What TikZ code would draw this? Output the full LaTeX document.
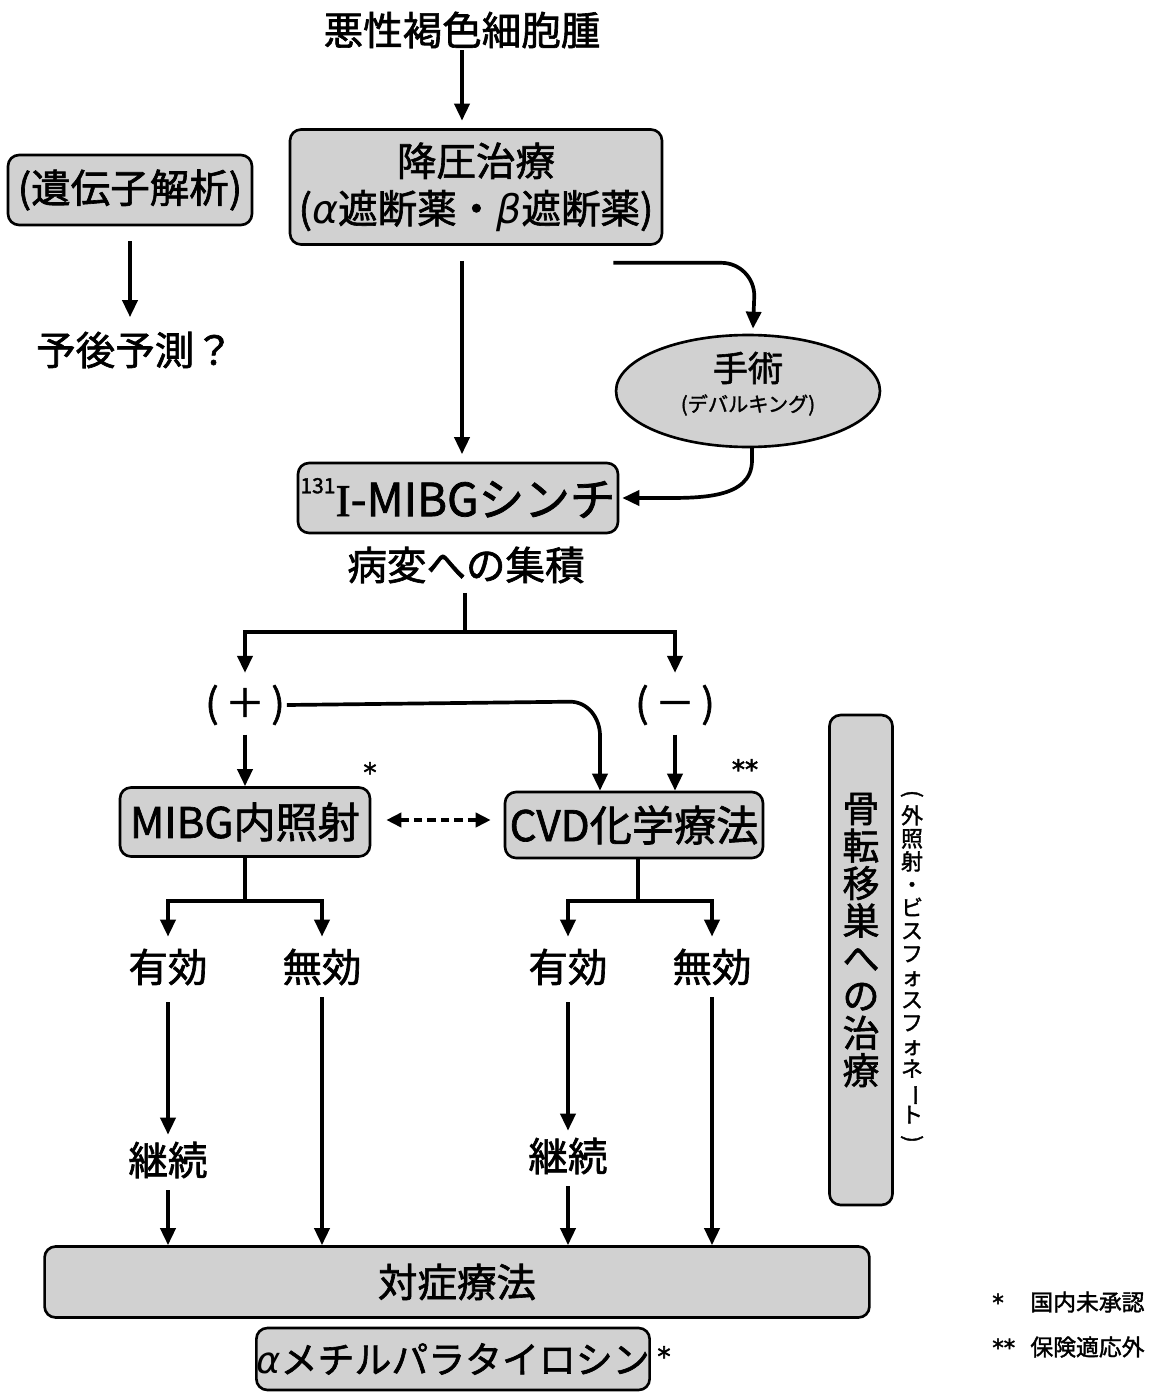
\documentclass[tikz,border=0pt]{standalone}
\usepackage{fontspec}
\usepackage{graphicx}
\setmainfont{Noto Sans CJK JP}[FakeBold=1.6]
\newfontfamily\seriffont{Liberation Serif}[FakeBold=1.2]
\newfontfamily\grkfont{DejaVu Sans}
\newfontfamily\starfont{DejaVu Sans}[FakeBold=2]
\usetikzlibrary{arrows.meta,calc,shapes.geometric}
\newcommand\rv[1]{\rotatebox[origin=c]{-90}{#1}}
\newcommand\ga{{\grkfont\itshape α}}
\newcommand\gb{{\grkfont\itshape β}}
\newcommand\nolsk{\lineskiplimit=-30pt\relax}
\begin{document}
\begin{tikzpicture}[x=0.02cm,y=-0.02cm,
 box/.style={draw, line width=1.5pt, rounded corners=0.22cm, fill=black!18, inner sep=0pt},
 arr/.style={line width=2.1pt, -{Triangle[length=0.34cm,width=0.3cm]}},
 darr/.style={line width=2.1pt, dash pattern=on 0.17cm off 0.1cm, {Triangle[length=0.3cm,width=0.28cm]}-{Triangle[length=0.3cm,width=0.28cm]}},
 ln/.style={line width=2.1pt},
 jp/.style={font=\fontsize{22.5}{27}\selectfont, inner sep=1pt},
 star/.style={font=\starfont\fontsize{15}{17}\selectfont, inner sep=0pt},
]
\useasboundingbox (0,0) rectangle (1152,1392);

% top
\node[jp] (title) at (462,30) {悪性褐色細胞腫};
\node[box, jp, minimum width=7.44cm, minimum height=2.3cm, align=center] (bp) at (476,187) {降圧治療\\(\ga 遮断薬・\gb 遮断薬)};
\draw[arr, shorten >=0.15cm] (title.south) -- (title.south |- bp.north);

% gene
\node[box, jp, minimum width=4.88cm, minimum height=1.4cm] (gene) at (130,190) {(遺伝子解析)};
\node[jp] (prog) at (135,350) {予後予測？};
\draw[arr, shorten <=0.3cm, shorten >=0.25cm] (gene.south) -- (gene.south |- prog.north);

% surgery
\node[draw, ellipse, line width=1.5pt, fill=black!18, minimum width=5.28cm, minimum height=2.24cm, inner sep=0pt] (op) at (748,391) {};
\node[font=\fontsize{20}{24}\selectfont, inner sep=0pt] (opt) at (748,368) {手術};
\node[font=\fontsize{11.5}{14}\selectfont, inner sep=0pt] (ops) at (748,405) {(デバルキング)};

% MIBG scintigraphy
\node[box, minimum width=6.4cm, minimum height=1.4cm, font=\fontsize{26}{30}\selectfont] (mi) at (458,498) {\raisebox{0.5em}{\fontsize{12}{14}\selectfont 131}{\seriffont I}-MIBGシンチ};

\draw[arr, shorten <=0.3cm, shorten >=0.15cm] (bp.south -| title.south) -- (mi.north -| title.south);
\draw[arr] ($(bp.south east)+(-50,17)$) -- ++(108,0) to[out=0,in=90] ++(33,33) -- ($(op.north)+(5,-5)$);
\draw[arr] ($(op.south)+(4,-2)$) -- ++(0,14) to[out=-90,in=0] ($(mi.east)+(40,0)$) -- ($(mi.east)+(3,0)$);

\node[jp] (lesion) at (466,565) {病変への集積};
\coordinate (br) at (465,632);
\node[jp] (plus) at (245,705) {(\,＋\,)};
\node[jp] (minus) at (675,705) {(\,－\,)};
\draw[ln, shorten <=0.15cm] (br |- lesion.south) -- (br);
\draw[arr, shorten >=0.2cm] (br) -| (plus.north);
\draw[arr, shorten >=0.2cm] (br) -| (minus.north);

% treatments
\node[box, font=\fontsize{24}{28}\selectfont, minimum width=5cm, minimum height=1.38cm] (mibg) at (245,822) {MIBG内照射};
\node[box, font=\fontsize{24}{28}\selectfont, minimum width=5.16cm, minimum height=1.32cm] (cvd) at (634,825) {CVD化学療法};
\node[star] (s1) at (370,772) {*};
\node[star] (s2) at (745,769) {**};

\draw[arr, shorten <=0.15cm] (plus.south) -- (plus.south |- mibg.north);
\draw[arr, shorten <=0.15cm] (minus.south) -- (minus.south |- cvd.north);
\draw[arr] (plus.east) -- ($(cvd.north)+(-64,-89)$) to[out=0,in=90] ($(cvd.north)+(-34,-55)$) -- ($(cvd.north)+(-34,0)$);
\draw[darr, shorten <=0.3cm, shorten >=0.26cm] ($(mibg.east)+(0,-2)$) -- ($(cvd.west)+(0,-5)$);

% outcomes
\node[jp] (e1) at (168,967) {有効};
\node[jp] (n1) at (322,967) {無効};
\node[jp] (e2) at (568,967) {有効};
\node[jp] (n2) at (712,967) {無効};
\draw[ln] (mibg.south) -- ++(0,43) coordinate (b1);
\draw[arr, shorten >=0.2cm] (b1) -| (e1.north);
\draw[arr, shorten >=0.2cm] (b1) -| (n1.north);
\draw[ln] ($(cvd.south)+(4,0)$) -- ++(0,42) coordinate (b2);
\draw[arr, shorten >=0.2cm] (b2) -| (e2.north);
\draw[arr, shorten >=0.2cm] (b2) -| (n2.north);

\node[jp] (k1) at (168,1160) {継続};
\node[jp] (k2) at (568,1156) {継続};
\node[box, jp, minimum width=16.5cm, minimum height=1.42cm] (sym) at (457,1282) {対症療法};

\draw[arr, shorten <=0.3cm, shorten >=0.1cm] (e1.south) -- (k1.north);
\draw[arr, shorten <=0.2cm] (k1.south) -- (k1.south |- sym.north);
\draw[arr, shorten <=0.2cm] (n1.south) -- (n1.south |- sym.north);
\draw[arr, shorten <=0.3cm, shorten >=0.1cm] (e2.south) -- (k2.north);
\draw[arr, shorten <=0.2cm] (k2.south) -- (k2.south |- sym.north);
\draw[arr, shorten <=0.2cm] (n2.south) -- (n2.south |- sym.north);

\node[box, font=\fontsize{21}{25}\selectfont, minimum width=7.8cm, minimum height=1.24cm] (amp) at (453,1359) {\ga メチルパラタイロシン};
\node[star] (s3) at (664,1356) {*};

% bone metastasis
\node[box, minimum width=1.26cm, minimum height=9.8cm] (bone) at (861,960) {};
\node[font=\fontsize{21}{21.3}\selectfont\nolsk, align=center, inner sep=0pt] (bonet) at (861,940) {骨\\転\\移\\巣\\へ\\の\\治\\療};
\node[font=\fontsize{12.5}{13.1}\selectfont\nolsk, align=center, inner sep=0pt] (bones) at (912,968) {\rv{(}\\外\\照\\射\\・\\ビ\\ス\\フ\\ォ\\ス\\フ\\ォ\\ネ\\\rv{ー}\\ト\\\rv{)}};

% legend
\node[anchor=west, font=\fontsize{13}{15}\selectfont, inner sep=0pt] (l1) at (992,1302) {\makebox[0.76cm][l]{\starfont *}国内未承認};
\node[anchor=west, font=\fontsize{13}{15}\selectfont, inner sep=0pt] (l2) at (992,1347) {\makebox[0.76cm][l]{\starfont **}保険適応外};
\end{tikzpicture}
\end{document}
